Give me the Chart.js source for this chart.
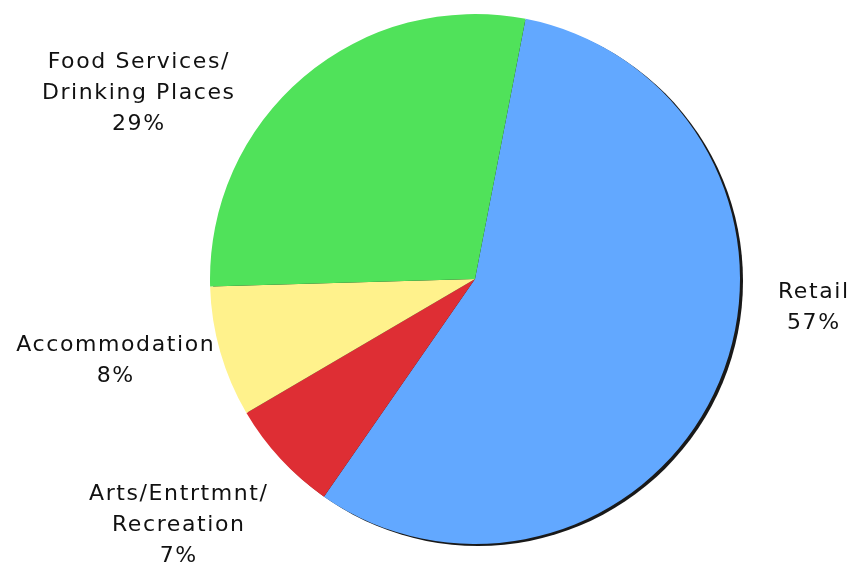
<!DOCTYPE html>
<html>
<head>
<meta charset="utf-8">
<script src="https://cdn.jsdelivr.net/npm/chart.js@4"></script>
<style>
  html, body { margin: 0; padding: 0; background: #fff; }
  #wrap { width: 850px; height: 566px; }
</style>
</head>
<body>
<div id="wrap"><canvas id="pie"></canvas></div>
<script>
// data
const categories = ["Retail", "Arts/Entrtmnt/Recreation", "Accommodation", "Food Services/Drinking Places"];
const shares = [56.6, 6.9, 8.0, 28.5];
const pctLabels = ["57%", "7%", "8%", "29%"];
const labelLines = [
  ["Retail"],
  ["Arts/Entrtmnt/", "Recreation"],
  ["Accommodation"],
  ["Food Services/", "Drinking Places"]
];
const sliceColors = ["rgb(98,168,255)", "rgb(222,46,52)", "rgb(255,242,140)", "rgb(80,226,90)"];

// dark edge behind the pie
const pieShadow = {
  id: "pieShadow",
  beforeDatasetsDraw(chart) {
    const arc = chart.getDatasetMeta(0).data[0];
    const ctx = chart.ctx;
    ctx.save();
    ctx.fillStyle = "rgba(0,0,0,0.9)";
    ctx.beginPath();
    ctx.arc(arc.x + 3, arc.y + 2, arc.outerRadius, 0, Math.PI * 2);
    ctx.fill();
    ctx.restore();
  }
};

// text labels outside the slices
const outsideLabels = {
  id: "outsideLabels",
  afterDatasetsDraw(chart, args, opts) {
    const ctx = chart.ctx;
    ctx.save();
    ctx.font = opts.font;
    ctx.letterSpacing = opts.spacing + "px";
    ctx.fillStyle = "#111";
    ctx.textAlign = "center";
    ctx.textBaseline = "middle";
    opts.pos.forEach((p, i) => {
      const lines = labelLines[i].concat([pctLabels[i]]);
      lines.forEach((t, k) => {
        ctx.fillText(t, p[0] + opts.spacing / 2, p[1] + k * opts.lineHeight);
      });
    });
    ctx.restore();
  }
};

const data = {
  labels: categories,
  datasets: [
    {
      data: shares,
      backgroundColor: sliceColors,
      borderWidth: 0
    }
  ]
};

const config = {
  type: "pie",
  data: data,
  options: {
    responsive: true,
    maintainAspectRatio: false,
    animation: false,
    rotation: 11,
    layout: {
      padding: { left: 210, right: 110, top: 14, bottom: 22 }
    },
    plugins: {
      legend: { display: false },
      tooltip: { enabled: false },
      outsideLabels: {
        font: "22px 'DejaVu Sans', Verdana, sans-serif",
        spacing: 1.6,
        lineHeight: 31,
        pos: [[813, 292], [178, 494], [115, 345], [138, 62]]
      }
    }
  },
  plugins: [pieShadow, outsideLabels]
};

const myChart = new Chart(document.getElementById("pie").getContext("2d"), config);
</script>
</body>
</html>
